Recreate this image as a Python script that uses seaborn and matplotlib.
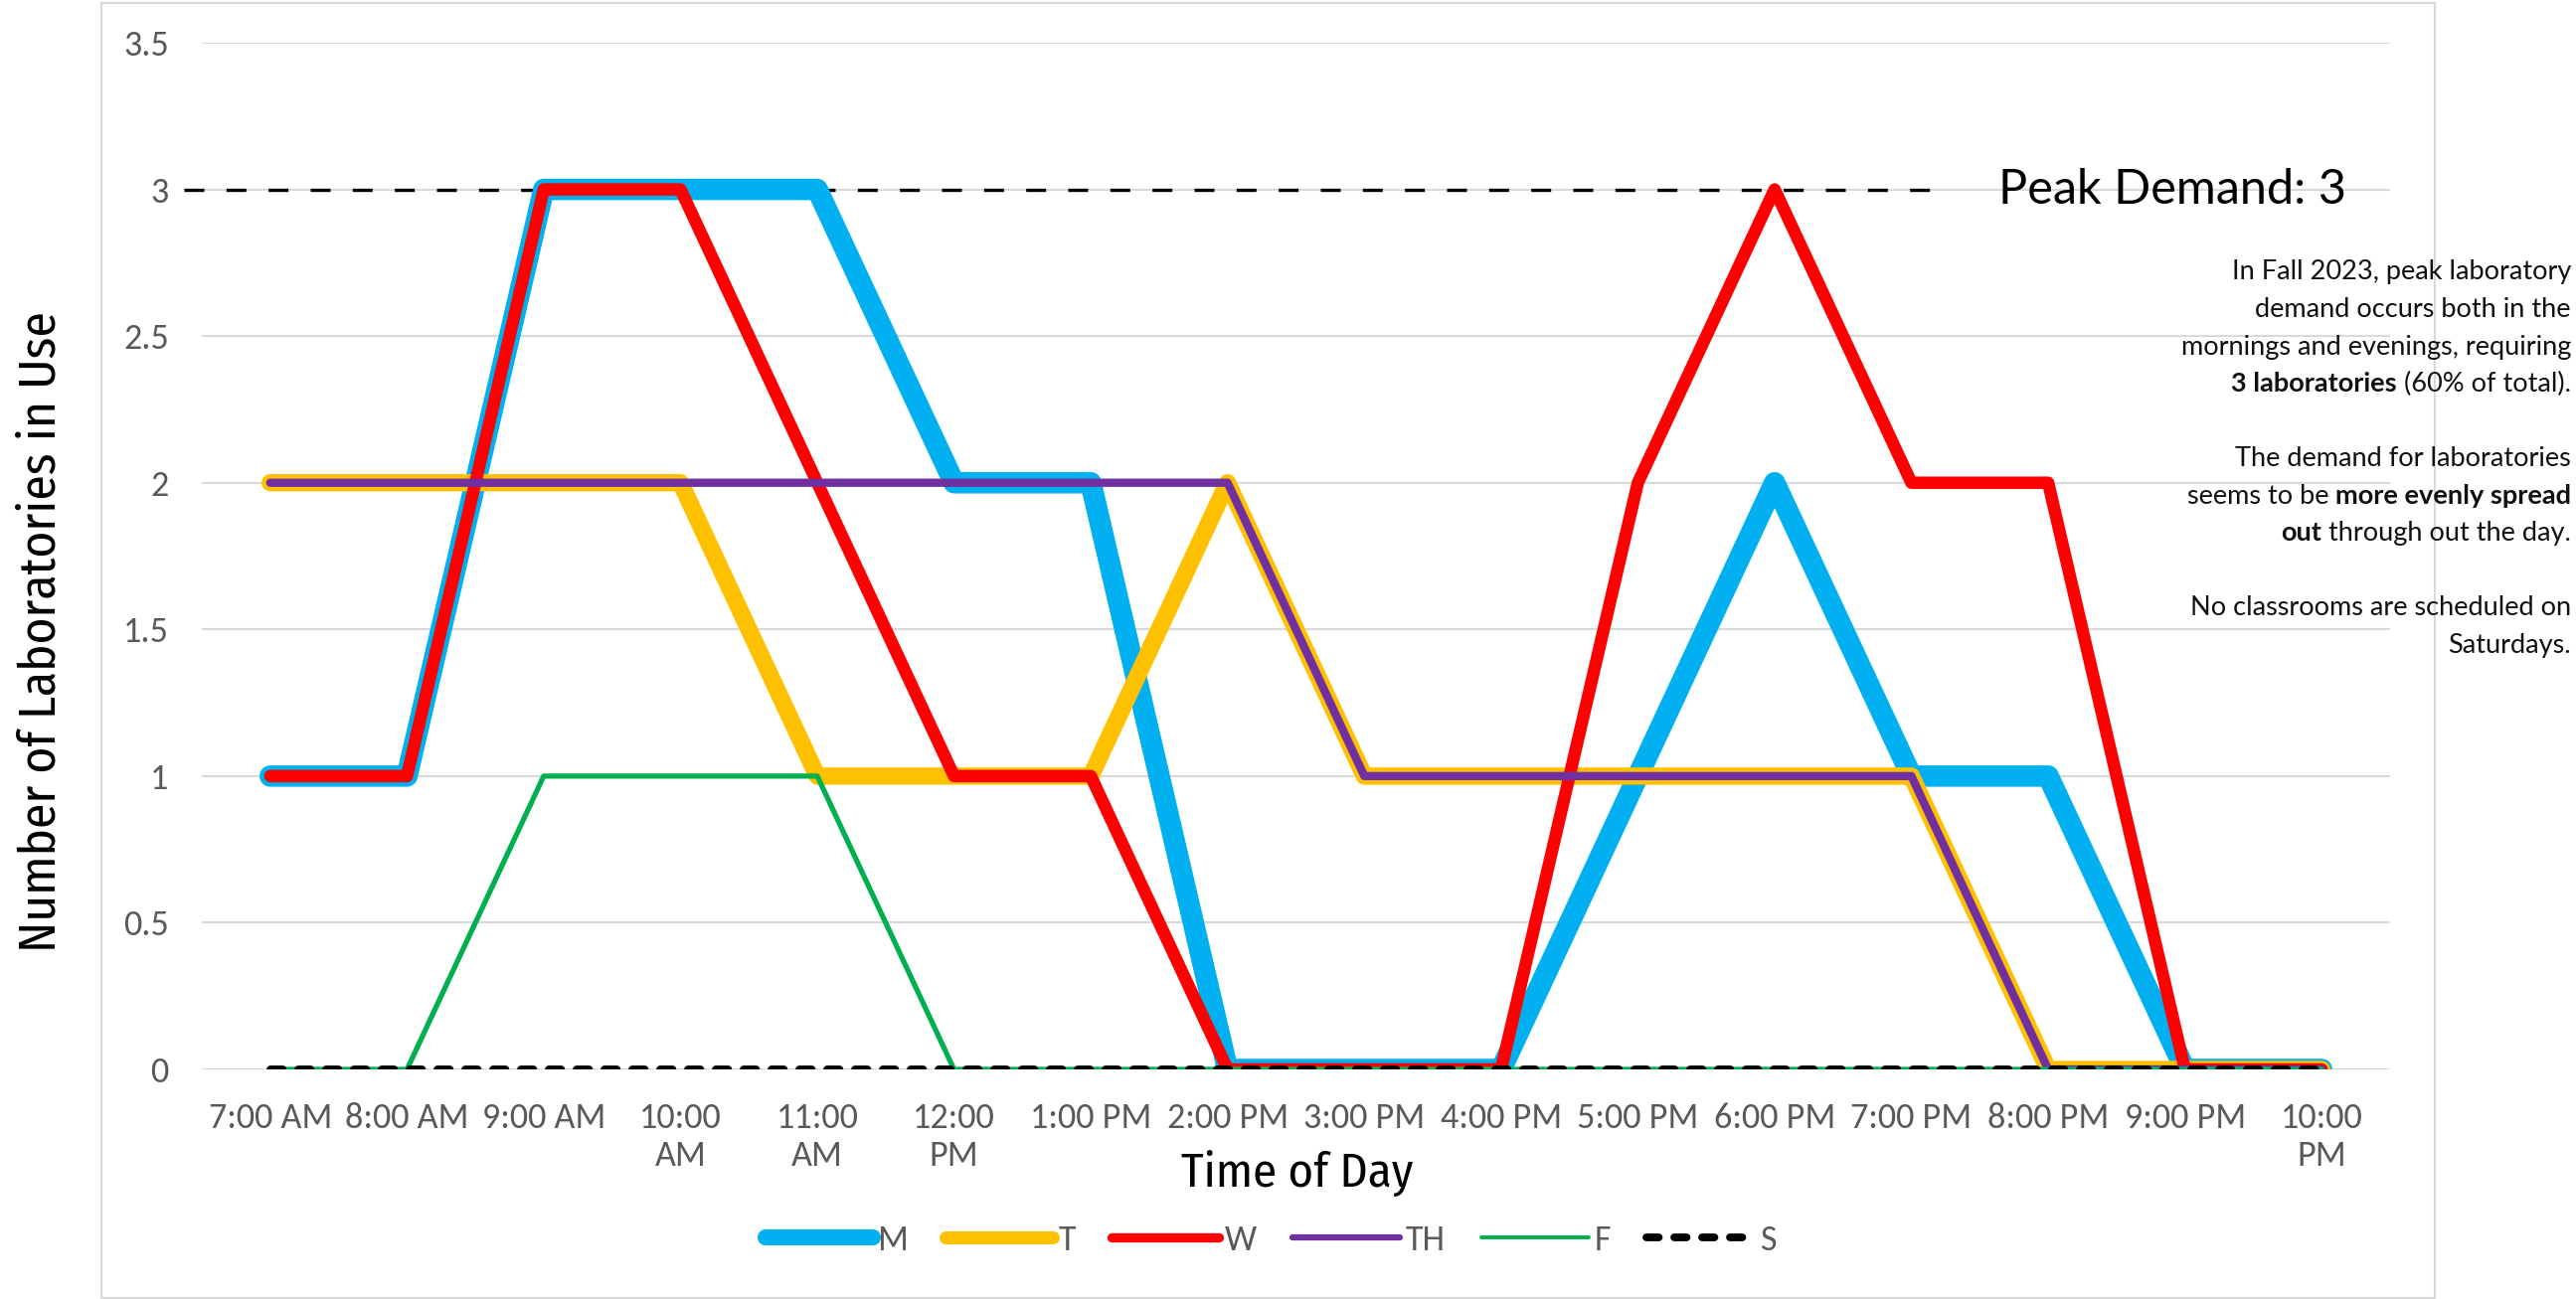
import numpy as np
import pandas as pd
import matplotlib
matplotlib.use("Agg")
import matplotlib.pyplot as plt
import seaborn as sns
from matplotlib.lines import Line2D
from matplotlib.patches import Rectangle

# -------------------------------
# Data
# -------------------------------
hours = ["7:00 AM", "8:00 AM", "9:00 AM", "10:00\nAM", "11:00\nAM", "12:00\nPM",
         "1:00 PM", "2:00 PM", "3:00 PM", "4:00 PM", "5:00 PM", "6:00 PM",
         "7:00 PM", "8:00 PM", "9:00 PM", "10:00\nPM"]

mon = [1, 1, 3, 3, 3, 2, 2, 0, 0, 0, 1, 2, 1, 1, 0, 0]
tue = [2, 2, 2, 2, 1, 1, 1, 2, 1, 1, 1, 1, 1, 0, 0, 0]
wed = [1, 1, 3, 3, 2, 1, 1, 0, 0, 0, 2, 3, 2, 2, 0, 0]
thu = [2, 2, 2, 2, 2, 2, 2, 2, 1, 1, 1, 1, 1, 0, 0, 0]
fri = [0, 0, 1, 1, 1, 0, 0, 0, 0, 0, 0, 0, 0, 0, 0, 0]
sat = [0, 0, 0, 0, 0, 0, 0, 0, 0, 0, 0, 0, 0, 0, 0, 0]

days = ["M", "T", "W", "TH", "F", "S"]
peak_demand = 3

colors = {"M": "#00b0f0", "T": "#ffc000", "W": "#ff0000",
          "TH": "#7030a0", "F": "#00b050", "S": "#000000"}
widths = {"M": 15.5, "T": 12.5, "W": 9.0, "TH": 6.0, "F": 3.8, "S": 5.6}

df = pd.DataFrame({
    "pos": np.tile(np.arange(len(hours)), len(days)),
    "day": np.repeat(days, len(hours)),
    "labs": mon + tue + wed + thu + fri + sat,
})

# -------------------------------
# Figure
# -------------------------------
sns.set_style("white")
tick_font = ["Carlito", "Lato", "DejaVu Sans"]
label_font = ["Fira Sans Condensed", "DejaVu Sans"]
note_font = ["Lato", "DejaVu Sans"]
plt.rcParams["font.family"] = tick_font

W_PX, H_PX = 2591, 1307
fig = plt.figure(figsize=(W_PX / 100, H_PX / 100), dpi=100)
ax = fig.add_axes([203 / W_PX, 1 - 1076 / H_PX, 2201 / W_PX, 1033 / H_PX])

# chart area border
fig.patches.append(Rectangle((102 / W_PX, 0.001), (2449 - 102) / W_PX, 0.997,
                             transform=fig.transFigure, fill=False,
                             edgecolor="#d9d9d9", linewidth=1.5))

for d in days:
    kw = dict(solid_capstyle="round", solid_joinstyle="round")
    if d == "S":
        kw = dict(dashes=(1.6, 2.0), dash_capstyle="round")
    sns.lineplot(data=df[df.day == d], x="pos", y="labs", color=colors[d],
                 linewidth=widths[d], ax=ax, zorder=3, **kw)

# peak line
ax.axhline(peak_demand, xmin=-0.008, xmax=0.794, color="black", linewidth=2.4,
           dashes=(6, 6.7), clip_on=False, zorder=2)
ax.text(0.821, peak_demand, f"Peak Demand: {peak_demand}",
        transform=ax.get_yaxis_transform(), va="center", ha="left",
        fontsize=35, family=note_font, fontweight="normal", color="black")

ax.set_xlim(-0.5, len(hours) - 0.5)
ax.set_ylim(0, 3.5)
ax.set_yticks(np.arange(0, 3.51, 0.5))
ax.set_yticklabels(["0", "0.5", "1", "1.5", "2", "2.5", "3", "3.5"])
ax.set_xticks(np.arange(len(hours)))
ax.set_xticklabels(hours)
ax.tick_params(axis="x", pad=24, labelsize=26, colors="#595959", length=0)
ax.tick_params(axis="y", pad=24, labelsize=26, colors="#595959", length=0)
ax.grid(axis="y", color="#d9d9d9", linewidth=1.5, zorder=0)
ax.set_axisbelow(True)
for s in ax.spines.values():
    s.set_visible(False)
ax.set_xlabel("")
ax.set_ylabel("")

fig.text(41 / W_PX, 1 - 636 / H_PX, "Number of Laboratories in Use",
         rotation=90, ha="center", va="center", fontsize=37, color="black",
         family=label_font)
fig.text(1305 / W_PX, 1 - 1180 / H_PX, "Time of Day",
         ha="center", va="center", fontsize=35, color="black", family=label_font)

# legend
handles = []
for d in days:
    if d == "S":
        h = Line2D([], [], color=colors[d], linewidth=widths[d], dashes=(1.6, 2.0),
                   dash_capstyle="round")
    else:
        h = Line2D([], [], color=colors[d], linewidth=widths[d] * 0.75,
                   solid_capstyle="round")
    handles.append(h)
leg = fig.legend(handles, days, loc="center", bbox_to_anchor=(1278 / W_PX, 1 - 1248 / H_PX),
                 ncol=6, frameon=False, fontsize=26, handlelength=3.0,
                 handletextpad=0.15, columnspacing=1.0)
for t in leg.get_texts():
    t.set_color("#595959")

# -------------------------------
# Side note with mixed bold text
# -------------------------------
note = [
    [("In Fall 2023, peak laboratory", "normal")],
    [("demand occurs both in the", "normal")],
    [("mornings and evenings, requiring", "normal")],
    [("3 laboratories", "bold"), (" (60% of total).", "normal")],
    [],
    [("The demand for laboratories", "normal")],
    [("seems to be ", "normal"), ("more evenly spread", "bold")],
    [("out", "bold"), (" through out the day.", "normal")],
    [],
    [("No classrooms are scheduled on", "normal")],
    [("Saturdays.", "normal")],
]

renderer = fig.canvas.get_renderer()
right_px = 2586
y_px = 274
step = 37.5
for line in note:
    x = right_px
    for text, weight in reversed(line):
        t = fig.text(x / W_PX, 1 - y_px / H_PX, text, ha="right", va="center",
                     fontsize=19.5, fontweight=weight, color="#111111",
                     family=note_font)
        ext = t.get_window_extent(renderer=renderer)
        x = ext.x0
    y_px += step

fig.savefig("out.png", dpi=100, facecolor="white")
